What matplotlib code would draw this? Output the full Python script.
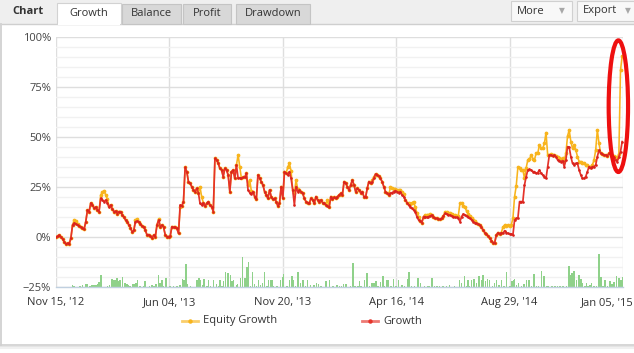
import numpy as np
import matplotlib
matplotlib.use('Agg')
import matplotlib.pyplot as plt
from matplotlib.patches import Rectangle, Ellipse
from matplotlib.lines import Line2D
from matplotlib.transforms import ScaledTranslation

plt.rcParams['font.family'] = ['Open Sans', 'DejaVu Sans']

# Growth (balance based), % per trading point
growth = [
    0, 0.5, 1, 0, -1, -2.5, -3.5, -3, -3.5, -0.5,
    6, 7, 6.5, 6, 5.5, 5, 4.5, 4, 7.7, 13.5,
    12.7, 17, 16, 14.5, 15, 13.5, 12.7, 19.3, 18.5, 17.7,
    18.5, 17, 15, 16, 14, 12.7, 13, 11.7, 12.7, 12.7,
    11, 10, 8.5, 7.7, 6, 4.7, 2.5, 3.3, 7.7, 8,
    7.7, 6.5, 5.5, 5, 3.3, 1, 1.2, 0.5, -0.5,
    1, 0.2, 6, 8.5, 5.2, 6, 4.8, 1, 0.2, 0.2,
    0.5, 5.2, 4.8, 4.8, 4.3, 1.8, 16, 15.5, 17.7, 34.8,
    32.7, 27.7, 26.8, 25.2, 23.5, 22.7, 24.3, 22.2, 16.8, 16,
    17.2, 15.5, 16.8, 17.7, 16, 15.2, 12.7, 39.3, 38.5, 36.8,
    34.3, 33.5, 30.2, 34.3, 33.5, 31, 22.7, 32.7, 33.5, 29.3,
    36, 29.3, 29.7, 29.3, 29.8, 29.8, 31.8, 23.5,
    22.2, 21.5, 22.7, 20.2, 18.8, 31, 29.3, 27.7, 26, 22.7,
    21, 19.3, 23.5, 20.2, 18.8, 19.3, 17.7, 15.5, 16.8, 25.2,
    19.3, 32.7, 31.8, 31, 32.7, 29.3, 23.5, 16, 25.2, 22.7,
    23.5, 22.7, 21.8, 19.3, 17.7, 17.2, 16.8, 19.3, 18.5, 16.8,
    20.2, 18.5, 17.7, 18.5, 17.2, 16.8, 16, 15.5, 14.8, 20.2,
    18.8, 19.8, 19.3, 20.2, 21, 21.8, 21, 27.7,
    26.8, 25.2, 23.5, 26, 28.5, 26, 22.7, 24.3, 23.5, 22.2,
    22.7, 20.2, 19.8, 24.3, 27.7, 26.8, 27.7, 29.3, 31.5, 31,
    30.5, 29.3, 27.7, 25.2, 22.7, 21.8, 21, 21.8, 22.2, 22.7,
    23.2, 22.7, 22.2, 22.7, 21, 20.2, 18.5, 17.2, 16, 15.2,
    14.3, 13.5, 12.7, 10.2, 8.5, 8.2, 7.2, 10.2, 10.2, 9.8,
    10.2, 10.5, 11, 10.2, 9.3, 9.3, 9, 8.8,
    9.3, 10.5, 11.8, 11.5, 11, 11, 10.5, 10.2, 9.8, 9.8,
    9.3, 7.7, 10.2, 11.5, 11, 10.5, 9.8, 9.3, 8.5, 7.7,
    7.2, 6.8, 6.5, 6, 4.8, 3.5, 2.2, 1.5, 0.5, -0.7,
    -1.8, -2.8, -2.8, 1, 2.2, 1.5, 2.2, 1.8, 3.2, 2.2,
    1.8, 1.5, 1.5, 1, 8.5, 9.3, 9.3, 17.7, 17.7, 17.7,
    26, 30.2, 33.5, 33.8, 33.5, 32.7, 32.7, 31.8,
    32.2, 33.5, 31.8, 31, 30.2, 29.3, 35.2, 41, 41, 40.5,
    41, 40.2, 38.5, 38.2, 37.7, 38.2, 35.2, 38.5, 45.2, 44.8,
    40.2, 36.8, 36, 36.8, 36.8, 33.5, 31, 29.3, 29.3, 30.2,
    32.7, 35.2, 34.3, 35.2, 35.2, 36, 40.2, 43.5, 41.8, 41.5,
    41, 41, 40.5, 41.8, 41, 39.3, 40.2, 38.5, 37.7, 40.2,
    42.7, 47.7,
]

# Equity growth (includes floating profit)
equity = [
    0, 0.5, 1, 0, -1, -2.5, -3.5, -3, -3.5, -0.5,
    6, 8.5, 8, 6.5, 5.5, 5, 4.5, 4, 7.7, 13.5,
    12.7, 17, 16, 14.5, 15, 13.5, 12.7, 21, 22.3, 23.2,
    21, 19, 15.5, 16, 14, 12.7, 13, 11.7, 12.7, 12.7,
    11, 10, 8.5, 7.7, 6, 4.7, 2.5, 3.3, 8.5, 9,
    7.7, 6.5, 5.5, 5, 3.3, 1, 1.2, 0.5, -0.5,
    1, 0.2, 6, 9, 5.2, 6, 4.8, 1, 0.2, 0.2,
    0.5, 5.2, 4.8, 4.8, 4.3, 1.8, 15, 15.5, 17.7, 34.8,
    32.7, 27.7, 26.8, 25.2, 23.5, 22.7, 24.3, 22.2, 25, 20,
    17.2, 15.5, 16.8, 17.7, 16, 15.2, 12.7, 39.3, 38.5, 36.8,
    34.3, 33.5, 30.2, 34.3, 33.5, 31, 22.7, 32.7, 33.5, 29.3,
    36, 41, 35, 29.3, 29.8, 29.8, 31.8, 26,
    28.5, 23, 22.7, 20.2, 18.8, 31, 29.3, 27.7, 26, 22.7,
    21, 19.3, 23.5, 20.2, 18.8, 19.3, 17.7, 15.5, 16.8, 25.2,
    19.3, 32.7, 31.8, 35, 36.8, 33, 23.5, 22, 28.5, 24,
    23.5, 22.7, 21.8, 19.3, 17.7, 17.2, 16.8, 19.3, 18.5, 16.8,
    20.2, 18.5, 17.7, 18.5, 17.2, 16.8, 16, 18.5, 14.8, 20.2,
    18.8, 19.8, 19.3, 20.2, 21, 21.8, 21, 27.7,
    26.8, 25.2, 23.5, 26, 28.5, 26, 22.7, 24.3, 23.5, 22.2,
    22.7, 20.2, 19.8, 24.3, 27.7, 26.8, 28.5, 30, 31.5, 31,
    30.5, 29.3, 27.7, 25.2, 22.7, 21.8, 21, 24.8, 24.5, 24,
    24, 23.5, 23.5, 23.5, 22.5, 21.5, 18.5, 17.2, 17, 16.5,
    17, 17.7, 15, 12, 10, 8.2, 7.2, 10.2, 11, 11,
    11, 11.5, 11, 10.2, 9.3, 9.3, 9, 8.8,
    9.3, 10.5, 12.5, 12.3, 12, 12, 11.5, 11.2, 11, 10.5,
    10.5, 16.8, 17, 15.5, 15, 13, 11.5, 10.5, 9.5, 8.5,
    8, 6.8, 6.5, 6, 4.8, 3.5, 2.2, 1.5, 0.5, -0.7,
    -1.8, -2.8, -2.8, 1, 2.2, 1.5, 2.2, 5, 6, 5.5,
    6, 5.5, 6, 9.3, 20.2, 25.5, 34.8, 34.5, 33.5, 33.5,
    29.3, 34.5, 38.5, 38.8, 41, 39, 38.5, 41.8,
    41.8, 46, 44.3, 44.3, 46.8, 52.2, 41, 41, 41.5, 41,
    41, 40.5, 40, 39.5, 39, 39.5, 38, 41.8, 50.5, 53.5,
    47.7, 44.3, 46, 43.5, 40.2, 37.7, 37.7, 36.8, 36.8, 36,
    36, 35.2, 35.2, 36, 38.5, 43.5, 53.5, 46.8, 42, 41.5,
    41, 41, 40.5, 42, 41, 40.5, 40.5, 40, 39.5, 41.5,
    83.5, 90.5,
]

# trade volume bars (position on the same trading index, height above the -25% floor)
vol_x = [
    10.1, 10.9, 14.5, 16.1, 18.2, 19.0, 20.6, 21.6, 23.0, 24.2,
    25.2, 26.0, 27.2, 31.0, 32.3, 33.7, 34.7, 35.7, 36.7, 37.7,
    38.7, 40.3, 41.7, 42.8, 43.7, 44.8, 46.4, 47.2, 48.4, 49.2,
    50.8, 52.8, 53.8, 56.5, 57.9, 59.3, 60.5, 61.9, 62.9, 63.9,
    64.9, 66.5, 69.0, 71.0, 73.0, 75.0, 76.4, 77.4, 78.5, 79.4,
    81.1, 85.1, 86.3, 87.1, 88.8, 89.5, 91.2, 92.2, 93.2, 95.2,
    96.8, 98.2, 99.2, 100.3, 101.2, 102.4, 103.9, 105.3, 106.3, 107.3,
    108.9, 109.7, 111.3, 112.7, 114.3, 115.4, 116.3, 117.4, 118.6, 119.8,
    121.0, 122.4, 123.4, 124.8, 126.0, 127.5, 128.4, 129.5, 130.5, 131.5,
    133.5, 135.5, 136.7, 137.5, 139.6, 141.1, 142.6, 143.6, 144.6, 146.2,
    147.6, 149.2, 150.6, 152.0, 153.7, 155.7, 157.3, 158.7,
    160.1, 163.2, 165.2, 167.2, 169.8, 171.2, 172.6, 173.8, 175.3, 177.9,
    179.3, 180.7, 182.3, 183.3, 184.3, 186.4, 187.8, 189.4, 190.8, 192.0,
    193.4, 194.4, 196.0, 197.4, 198.5, 199.5, 200.5, 202.5, 203.9, 205.5,
    206.9, 208.9, 210.6, 212.2, 213.2, 214.6, 216.6, 218.6, 220.2, 222.7,
    224.7, 225.7, 227.1, 228.7, 230.1, 231.7, 233.8, 235.8, 237.8, 240.8,
    243.8, 244.9, 246.9, 247.9, 248.9, 249.9, 250.9, 252.5, 254.1, 255.5,
    256.9, 257.9, 259.4, 260.6, 262.0, 263.6, 265.0, 266.0, 267.6, 269.0,
    270.7, 272.1, 274.1, 275.5, 276.7, 277.1, 278.1, 279.5, 281.2, 282.8,
    284.2, 285.6, 287.2, 288.8, 290.2, 291.6, 293.3, 294.9, 296.3, 297.3,
    299.7, 301.3, 302.9, 304.4, 306.4, 308.4, 309.8, 310.6, 311.8, 313.0,
    314.4, 315.8, 317.1, 318.1, 319.5, 320.5, 321.5, 322.5, 323.5, 325.1,
    326.5, 327.9, 329.1, 330.5, 331.5, 333.2, 334.6, 336.0, 337.2, 338.6,
    340.0, 341.2, 342.6,
]
vol_h = [
    1.0, 0.7, 0.7, 1.0, 1.7, 1.3, 0.7, 1.0, 1.0, 1.0,
    1.7, 2.3, 6.2, 0.7, 1.0, 4.0, 3.7, 3.3, 4.3, 2.8,
    3.7, 5.0, 2.0, 1.3, 1.0, 0.7, 1.3, 1.7, 2.0, 3.3,
    0.7, 0.7, 2.8, 0.7, 1.2, 0.7, 1.7, 6.2, 2.0, 3.7,
    0.7, 4.5, 0.7, 0.7, 0.7, 1.0, 4.0, 3.7, 11.5, 1.7,
    0.7, 3.7, 4.5, 3.7, 1.2, 4.0, 0.7, 3.7, 0.7, 3.7,
    1.7, 0.7, 3.7, 0.7, 2.8, 7.7, 7.0, 6.2, 2.8, 3.7,
    1.2, 1.7, 4.5, 15.0, 4.5, 10.0, 12.3, 0.7, 7.3, 1.7,
    0.7, 3.7, 1.2, 2.0, 7.7, 0.7, 3.7, 3.7, 3.7, 0.7,
    0.7, 3.7, 5.0, 6.7, 0.7, 3.7, 5.3, 3.7, 0.7, 7.3,
    2.0, 3.7, 0.7, 3.3, 1.2, 1.2, 2.0, 1.7,
    0.7, 2.8, 3.3, 0.7, 1.2, 0.7, 0.7, 1.7, 1.7, 0.7,
    12.0, 0.7, 0.7, 2.8, 0.7, 3.7, 7.0, 0.7, 2.0, 2.0,
    2.8, 0.7, 2.3, 5.3, 0.7, 3.7, 3.7, 0.7, 4.0, 0.7,
    3.7, 1.2, 0.7, 4.0, 7.3, 0.7, 0.7, 4.5, 2.0, 0.7,
    0.7, 0.7, 4.5, 0.7, 0.7, 0.7, 0.7, 0.7, 1.0, 0.7,
    3.7, 2.0, 5.3, 0.7, 3.7, 0.7, 3.7, 4.0, 2.0, 5.3,
    3.7, 6.2, 2.8, 4.0, 3.3, 0.7, 2.0, 3.7, 1.2, 3.3,
    0.7, 7.3, 0.7, 2.8, 3.7, 4.0, 1.2, 2.0, 0.7, 1.7,
    3.7, 3.7, 0.7, 6.7, 0.7, 0.7, 7.8, 5.3, 0.7, 0.7,
    0.7, 0.7, 0.7, 0.7, 0.7, 0.7, 10.7, 6.2, 7.0, 7.8,
    3.7, 6.2, 4.0, 2.0, 0.7, 2.0, 0.7, 1.2, 2.0, 0.7,
    0.7, 16.7, 5.0, 0.7, 3.7, 0.7, 2.8, 1.7, 2.3, 5.3,
    4.5, 3.7, 5.0,
]

date_labels = ["Nov 15, '12", "Jun 04, '13", "Nov 20, '13",
               "Apr 16, '14", "Aug 29, '14", "Jan 05, '15"]
y_ticks = [-25, 0, 25, 50, 75, 100]

W, H = 634, 353
RED = '#e5332a'
ORANGE = '#f8b41c'
GREEN = '#8fd18a'
TXT = '#333333'

fig = plt.figure(figsize=(W / 100, H / 100), dpi=100)
fig.patch.set_facecolor('white')


def box(x0, y0, x1, y1, fc, ec='none', lw=0.8, z=1):
    r = Rectangle((x0 / W, 1 - y1 / H), (x1 - x0) / W, (y1 - y0) / H,
                  transform=fig.transFigure, facecolor=fc, edgecolor=ec,
                  linewidth=lw, zorder=z)
    fig.add_artist(r)


def hline(x0, x1, y, c, lw=1.0):
    fig.add_artist(Line2D([x0 / W, x1 / W], [1 - y / H, 1 - y / H],
                          transform=fig.transFigure, color=c, lw=lw))


def vline(x, y0, y1, c, lw=1.0):
    fig.add_artist(Line2D([x / W, x / W], [1 - y0 / H, 1 - y1 / H],
                          transform=fig.transFigure, color=c, lw=lw))


# header strip with tabs
box(0, 0, W, 23.5, '#efefef')
hline(0, W, 23.5, '#cfcfcf')
fig.text(12 / W, 1 - 12 / H, 'Chart', fontsize=8, fontweight='bold',
         color=TXT, va='center', ha='left')
box(57, 3, 120.5, 24.2, 'white', '#d2d2d2', z=2)
box(57.6, 22.8, 119.9, 25, 'white', z=3)
fig.text(88.7 / W, 1 - 13.5 / H, 'Growth', fontsize=8, color=TXT,
         va='center', ha='center', zorder=4)
for x0, x1, name in [(121.5, 180.5, 'Balance'), (183, 231, 'Profit'),
                     (236, 309.5, 'Drawdown')]:
    box(x0, 4, x1, 23.5, '#d8d8d8', '#c4c4c4', z=2)
    fig.text((x0 + x1) / 2 / W, 1 - 13.5 / H, name, fontsize=8, color=TXT,
             va='center', ha='center', zorder=4)
for x0, x1, name in [(511, 572, 'More'), (577, 640, 'Export')]:
    box(x0, 1, x1, 21, '#f8f8f8', '#d0d0d0', z=2)
    fig.text((x0 + 6) / W, 1 - 11 / H, name, fontsize=8, color=TXT,
             va='center', ha='left', zorder=4)
    fig.text((x0 + 51) / W, 1 - 11 / H, '\u25bc', fontsize=5.5,
             color='#a8a8a8', va='center', ha='center', zorder=4,
             family=['DejaVu Sans'])

# panel border and shadow
vline(1, 23.5, 345, '#d4d4d4', lw=1.4)
hline(1, W, 345, '#d0d0d0', lw=1.2)
hline(1, W, 346.5, '#e4e4e4', lw=1.5)
hline(1, W, 348, '#f0f0f0', lw=1.5)

# plot area
L, R, T, B = 56, 623, 37, 287
ax = fig.add_axes([L / W, 1 - B / H, (R - L) / W, (B - T) / H])
ax.set_facecolor('none')

n = len(growth)
idx = np.arange(n)
x_max = n - 0.5
ax.set_xlim(0, x_max)
ax.set_ylim(-25, 100)

ax.bar(vol_x, vol_h, bottom=-25, width=0.9, color=GREEN, linewidth=0,
       zorder=2)
ax.plot(idx, equity, color=ORANGE, lw=1.15, marker='o', ms=1.7,
        zorder=3)
ax.plot(idx, growth, color=RED, lw=1.25, marker='o', ms=1.9,
        markerfacecolor='#d9221c', markeredgewidth=0, zorder=4)

ax.set_yticks(y_ticks)
ax.set_yticklabels(['\u221225%' if v < 0 else f'{v}%' for v in y_ticks])
ax.set_yticks(np.arange(-25, 101, 5), minor=True)
ax.set_xticks(np.linspace(0, x_max, len(date_labels)))
ax.set_xticklabels(date_labels)

ax.grid(True, which='major', axis='both', color='#dedede', lw=1.0, zorder=0)
ax.grid(True, which='minor', axis='y', color='#f1f1f1', lw=1.0, zorder=0)
ax.set_axisbelow(True)
ax.tick_params(axis='both', which='both', length=0)
ax.tick_params(axis='y', pad=3.5, labelsize=8, labelcolor='#444444')
ax.tick_params(axis='x', pad=7, labelsize=8, labelcolor=TXT)
for s in ['top', 'left', 'right']:
    ax.spines[s].set_visible(False)
ax.spines['bottom'].set_color('#c0d0e0')
ax.spines['bottom'].set_linewidth(1.0)

last = ax.get_xticklabels()[-1]
last.set_horizontalalignment('right')
last.set_transform(last.get_transform() +
                   ScaledTranslation(11 / 100, 0, fig.dpi_scale_trans))

# highlight ring around the last equity spike
ax.add_patch(Ellipse((339.7, 65.4), 11.7, 65.8, facecolor='none',
                     edgecolor='#ee1010', lw=3, clip_on=False, zorder=6))

# legend
ly = 321
for x0, col, name in [(182, ORANGE, 'Equity Growth'), (362, RED, 'Growth')]:
    fig.add_artist(Line2D([x0 / W, (x0 + 16) / W], [1 - ly / H] * 2,
                          transform=fig.transFigure, color=col, lw=2,
                          alpha=0.65))
    fig.add_artist(Line2D([(x0 + 8) / W], [1 - ly / H],
                          transform=fig.transFigure, color=col, marker='o',
                          ms=2.2, lw=0))
    fig.text((x0 + 21) / W, 1 - ly / H, name, fontsize=8, color=TXT,
             va='center', ha='left')

fig.savefig('out.png', dpi=100)
